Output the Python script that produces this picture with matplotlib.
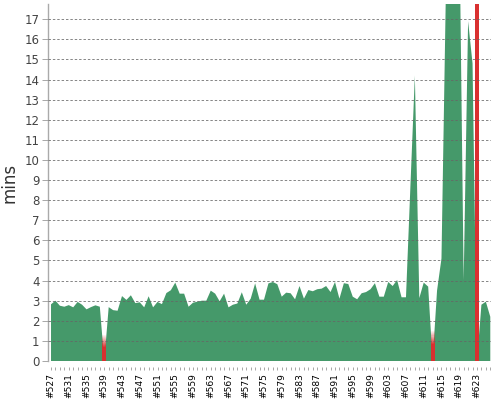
import matplotlib
matplotlib.use("Agg")
import matplotlib.pyplot as plt
import numpy as np

# build numbers and durations (minutes)
builds = list(range(527, 627))
success_mins = [
    2.82, 3.0, 2.75, 2.7, 2.78, 2.67, 2.94, 2.8, 2.57, 2.68,   # 527-536
    2.77, 2.7, 0.0, 2.68, 2.53, 2.5, 3.23, 3.04, 3.27, 2.88,   # 537-546
    2.92, 2.67, 3.22, 2.67, 2.94, 2.83, 3.38, 3.52, 3.9, 3.35,  # 547-556
    3.35, 2.7, 2.9, 2.95, 3.0, 3.0, 3.5, 3.35, 2.97, 3.35,     # 557-566
    2.67, 2.8, 2.86, 3.42, 2.8, 3.1, 3.86, 3.05, 3.05, 3.86,   # 567-576
    3.93, 3.82, 3.2, 3.4, 3.37, 3.07, 3.73, 3.1, 3.53, 3.47,   # 577-586
    3.57, 3.6, 3.73, 3.43, 3.93, 3.1, 3.87, 3.83, 3.2, 3.07,   # 587-596
    3.37, 3.43, 3.57, 3.87, 3.2, 3.2, 3.93, 3.73, 4.03, 3.17,  # 597-606
    3.17, 8.7, 14.2, 3.13, 3.9, 3.7, 0.0, 3.5, 5.1, 18.5,      # 607-616
    21.0, 22.0, 22.5, 4.0, 16.9, 14.8, 0.0, 2.8, 2.95, 2.2,    # 617-626
]
failed_builds = [539, 613, 623]
failed_mins = [1.3, 1.5, 20.0]
label_builds = list(range(527, 627, 4))

green = "#45996a"
red = "#d93030"

fig = plt.figure(figsize=(5, 4), dpi=100)
ax = fig.add_axes([0.096, 0.0975, 0.886, 0.8925])

ax.fill_between(builds, success_mins, 0, color=green, lw=0, zorder=2)

ymax = 17.76
for b, m in zip(failed_builds, failed_mins):
    if m > ymax:
        ax.bar(b, m, width=0.9, color=red, lw=0, zorder=3)
    else:
        # short failures fade out towards the top
        solid = m * 0.55
        ax.bar(b, solid, width=0.9, color=red, lw=0, zorder=3)
        steps = 12
        edges = np.linspace(solid, m, steps + 1)
        for i in range(steps):
            ax.bar(b, edges[i + 1] - edges[i], bottom=edges[i], width=0.9,
                   color=red, alpha=1 - (i + 1) / (steps + 1), lw=0, zorder=3)

ax.set_xlim(526.32, 626.16)
ax.set_ylim(0, ymax)

ax.set_yticks(range(0, 18))
for y in range(1, 18):
    ax.axhline(y, color="#666666", lw=0.7, ls=(0, (2.5, 2)), alpha=0.8, zorder=4)

ax.set_xticks(label_builds)
ax.set_xticklabels(["#%d" % b for b in label_builds])
ax.set_xticks(builds, minor=True)
ax.tick_params(axis="x", which="both", length=2.5, width=0.6, color="#999999", pad=2)
ax.tick_params(axis="x", which="major", labelrotation=90, labelsize=6.6)
ax.tick_params(axis="y", length=4, width=0.6, color="#999999", labelsize=8.5,
               labelcolor="#444444", pad=2)

for s in ["top", "right"]:
    ax.spines[s].set_visible(False)
ax.spines["bottom"].set_position(("outward", 4))
ax.spines["bottom"].set_visible(False)
ax.spines["left"].set_color("#aaaaaa")
ax.spines["left"].set_linewidth(1)

ax.set_ylabel("mins", fontsize=12, color="#333333")
ax.yaxis.set_label_coords(-0.066, 0.5)

fig.savefig("out.png", dpi=100)
